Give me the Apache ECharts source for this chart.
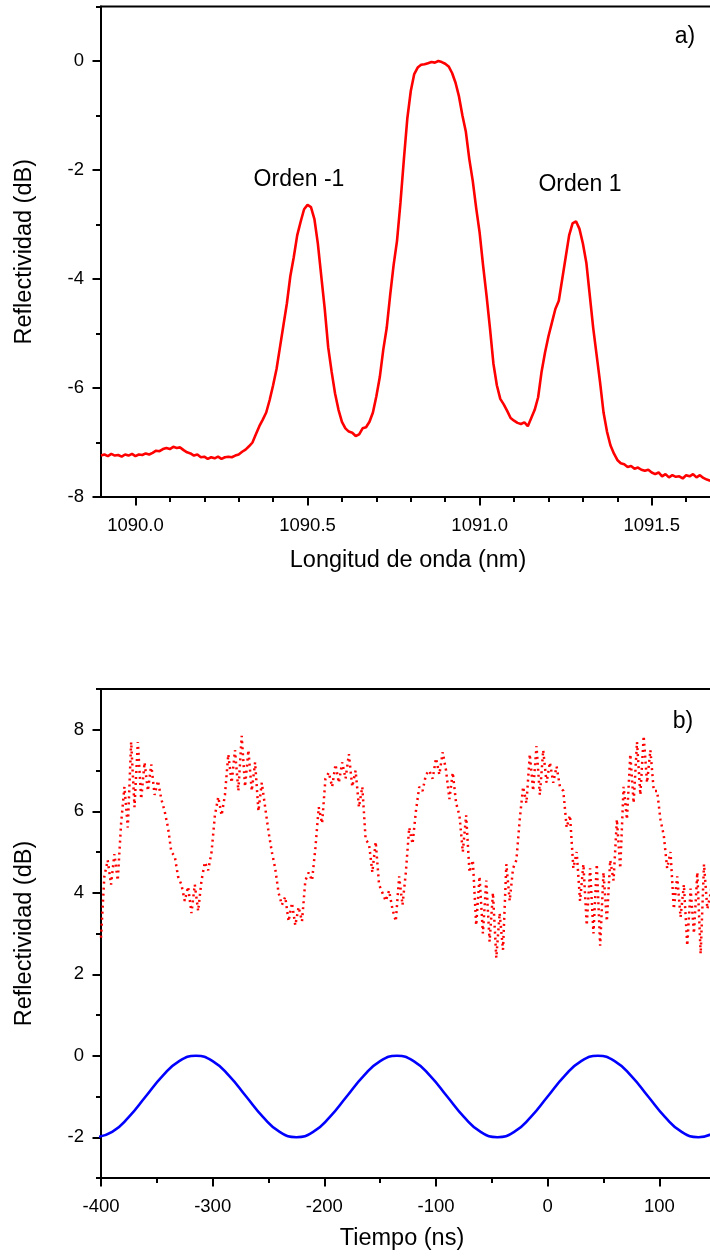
<!DOCTYPE html>
<html><head><meta charset="utf-8">
<script src="https://cdn.jsdelivr.net/npm/echarts@6/dist/echarts.min.js"></script>
<style>html,body{margin:0;padding:0;background:#fff}#c{width:710px;height:1256px}</style>
</head><body><div id="c"></div>
<script>
// ---- Panel a) spectrum ----
const wavelength = [
1089.90,1089.91,1089.92,1089.93,1089.94,1089.95,1089.96,1089.97,1089.98,1089.99,
1090.00,1090.01,1090.02,1090.03,1090.04,1090.05,1090.06,1090.07,1090.08,1090.09,
1090.10,1090.11,1090.12,1090.13,1090.14,1090.15,1090.16,1090.17,1090.18,1090.19,
1090.20,1090.21,1090.22,1090.23,1090.24,1090.25,1090.26,1090.27,1090.28,1090.29,
1090.30,1090.31,1090.32,1090.33,1090.34,1090.35,1090.36,1090.37,1090.38,1090.39,
1090.40,1090.41,1090.42,1090.43,1090.44,1090.45,1090.46,1090.47,1090.48,1090.49,
1090.50,1090.51,1090.52,1090.53,1090.54,1090.55,1090.56,1090.57,1090.58,1090.59,
1090.60,1090.61,1090.62,1090.63,1090.64,1090.65,1090.66,1090.67,1090.68,1090.69,
1090.70,1090.71,1090.72,1090.73,1090.74,1090.75,1090.76,1090.77,1090.78,1090.79,
1090.80,1090.81,1090.82,1090.83,1090.84,1090.85,1090.86,1090.87,1090.88,1090.89,
1090.90,1090.91,1090.92,1090.93,1090.94,1090.95,1090.96,1090.97,1090.98,1090.99,
1091.00,1091.01,1091.02,1091.03,1091.04,1091.05,1091.06,1091.07,1091.08,1091.09,
1091.10,1091.11,1091.12,1091.13,1091.14,1091.15,1091.16,1091.17,1091.18,1091.19,
1091.20,1091.21,1091.22,1091.23,1091.24,1091.25,1091.26,1091.27,1091.28,1091.29,
1091.30,1091.31,1091.32,1091.33,1091.34,1091.35,1091.36,1091.37,1091.38,1091.39,
1091.40,1091.41,1091.42,1091.43,1091.44,1091.45,1091.46,1091.47,1091.48,1091.49,
1091.50,1091.51,1091.52,1091.53,1091.54,1091.55,1091.56,1091.57,1091.58,1091.59,
1091.60,1091.61,1091.62,1091.63,1091.64,1091.65,1091.66,1091.67
];
const reflectA = [
-7.24,-7.22,-7.25,-7.21,-7.24,-7.23,-7.26,-7.22,-7.24,-7.21,
-7.25,-7.22,-7.23,-7.20,-7.22,-7.19,-7.15,-7.16,-7.12,-7.10,
-7.12,-7.08,-7.10,-7.09,-7.14,-7.18,-7.20,-7.24,-7.22,-7.27,
-7.26,-7.30,-7.27,-7.29,-7.26,-7.30,-7.27,-7.26,-7.27,-7.24,
-7.22,-7.17,-7.13,-7.07,-7.00,-6.85,-6.70,-6.58,-6.45,-6.22,
-5.95,-5.65,-5.25,-4.85,-4.45,-3.95,-3.60,-3.20,-2.95,-2.72,
-2.64,-2.68,-2.90,-3.35,-3.95,-4.55,-5.25,-5.70,-6.10,-6.40,
-6.62,-6.74,-6.80,-6.82,-6.88,-6.85,-6.74,-6.72,-6.62,-6.45,
-6.15,-5.80,-5.30,-4.90,-4.30,-3.75,-3.30,-2.60,-1.80,-1.05,
-0.55,-0.24,-0.12,-0.07,-0.06,-0.04,-0.02,-0.03,0.00,-0.02,
-0.05,-0.10,-0.22,-0.40,-0.65,-1.00,-1.30,-1.80,-2.20,-2.70,
-3.15,-3.75,-4.30,-4.90,-5.55,-5.95,-6.20,-6.30,-6.42,-6.55,
-6.60,-6.64,-6.66,-6.63,-6.70,-6.55,-6.40,-6.17,-5.70,-5.35,
-5.05,-4.80,-4.55,-4.40,-4.00,-3.60,-3.20,-2.98,-2.94,-3.08,
-3.35,-3.70,-4.30,-4.90,-5.40,-5.90,-6.45,-6.80,-7.05,-7.20,
-7.32,-7.38,-7.40,-7.45,-7.43,-7.48,-7.46,-7.50,-7.52,-7.50,
-7.55,-7.58,-7.55,-7.62,-7.58,-7.64,-7.60,-7.63,-7.62,-7.66,
-7.60,-7.62,-7.58,-7.64,-7.60,-7.65,-7.68,-7.70
];
const wlMajorTicks = [1090.0, 1090.5, 1091.0, 1091.5];
const wlMinorTicks = [1090.1,1090.2,1090.3,1090.4,1090.6,1090.7,1090.8,1090.9,1091.1,1091.2,1091.3,1091.4,1091.6,1091.7];
const reflAMajorTicks = [-8, -6, -4, -2, 0];
const reflAMinorTicks = [-7, -5, -3, -1, 1];
const annotationsA = ['Orden -1', 'Orden 1', 'a)'];

// ---- Panel b) time traces ----
const timeRed = [
-400,-397,-394,-391,-388,-385,-382,-379,-376,-373,
-370,-367,-364,-361,-358,-355,-352,-349,-346,-343,
-340,-337,-334,-331,-328,-325,-322,-319,-316,-313,
-310,-307,-304,-301,-298,-295,-292,-289,-286,-283,
-280,-277,-274,-271,-268,-265,-262,-259,-256,-253,
-250,-247,-244,-241,-238,-235,-232,-229,-226,-223,
-220,-217,-214,-211,-208,-205,-202,-199,-196,-193,
-190,-187,-184,-181,-178,-175,-172,-169,-166,-163,
-160,-157,-154,-151,-148,-145,-142,-139,-136,-133,
-130,-127,-124,-121,-118,-115,-112,-109,-106,-103,
-100,-97,-94,-91,-88,-85,-82,-79,-76,-73,
-70,-67,-64,-61,-58,-55,-52,-49,-46,-43,
-40,-37,-34,-31,-28,-25,-22,-19,-16,-13,
-10,-7,-4,-1,2,5,8,11,14,17,
20,23,26,29,32,35,38,41,44,47,
50,53,56,59,62,65,68,71,74,77,
80,83,86,89,92,95,98,101,104,107,
110,113,116,119,122,125,128,131,134,137,
140,143,146,149
];
const reflRed = [
2.9,4.4,4.8,4.2,4.95,4.3,5.7,6.6,5.6,7.7,
6.1,7.7,6.3,7.2,6.5,7.15,6.4,6.75,6.3,6.0,
5.6,5.0,4.9,4.4,4.2,3.8,4.15,3.5,4.2,3.55,
4.3,4.75,4.55,5.0,5.9,6.35,5.9,6.4,7.4,6.7,
7.5,6.5,7.85,6.6,7.5,6.5,7.2,6.0,6.7,6.1,
5.5,5.0,4.6,4.0,3.7,3.9,3.3,3.75,3.2,3.65,
3.3,4.3,4.5,4.3,5.1,6.1,5.7,6.8,6.95,6.6,
7.15,6.7,7.2,6.8,7.4,6.6,7.0,6.1,6.6,5.3,
5.2,4.5,5.25,4.2,4.0,3.8,4.05,3.6,3.3,4.4,
3.7,4.5,5.6,5.2,6.0,6.6,6.5,6.9,7.0,6.8,
7.3,6.9,7.45,7.0,6.3,6.95,6.2,5.9,5.0,5.9,
4.5,4.8,3.2,4.4,3.0,4.3,2.8,4.0,2.4,3.5,
2.6,4.7,3.8,4.6,4.8,5.8,6.6,6.2,7.4,6.5,
7.6,6.4,7.5,6.7,7.2,6.7,7.1,6.6,6.5,5.6,
5.9,4.6,5.0,3.8,4.7,3.2,4.6,3.0,4.7,2.7,
4.5,3.3,4.8,4.3,5.8,4.6,6.6,5.8,7.4,6.2,
7.7,6.4,7.85,6.7,7.5,6.5,6.5,5.8,5.4,4.6,
5.0,3.6,4.4,3.4,4.2,2.7,4.1,3.0,4.5,2.5,
4.7,3.6,4.0,4.7
];
const timeBlue = [-405,-390,-375,-360,-345,-330,-315,-300,-285,-270,-255,-240,-225,-210,-195,-180,-165,-150,-135,-120,-105,-90,-75,-60,-45,-30,-15,0,15,30,45,60,75,90,105,120,135,150];
const reflBlue = [-2,-1.87,-1.5,-1,-0.5,-0.13,0,-0.13,-0.5,-1,-1.5,-1.87,-2,-1.87,-1.5,-1,-0.5,-0.13,0,-0.13,-0.5,-1,-1.5,-1.87,-2,-1.87,-1.5,-1,-0.5,-0.13,0,-0.13,-0.5,-1,-1.5,-1.87,-2,-1.87];
const timeMajorTicks = [-400, -300, -200, -100, 0, 100];
const timeMinorTicks = [-350, -250, -150, -50, 50, 150];
const reflBMajorTicks = [-2, 0, 2, 4, 6, 8];
const reflBMinorTicks = [-3, -1, 1, 3, 5, 7, 9];
const annotationsB = ['b)'];

const zip = (a, b) => a.map((v, i) => [v, b[i]]);
const FONT = '"Liberation Sans", Arial, sans-serif';
const BLACK = '#000';
const TICK_FS = 18.5, TITLE_FS = 23.5, NOTE_FS = 23;

function majorAxis(extra, ticks, fmt) {
  const lab = { color: BLACK, fontSize: TICK_FS, fontFamily: FONT, customValues: ticks };
  if (fmt) lab.formatter = fmt;
  return Object.assign({
    type: 'value',
    axisLine: { show: true, onZero: false, lineStyle: { color: BLACK, width: 2 } },
    axisTick: { show: true, length: 8.5, customValues: ticks, lineStyle: { color: BLACK, width: 2 } },
    splitLine: { show: false },
    nameLocation: 'middle'
  }, extra, {
    axisLabel: Object.assign(lab, extra.axisLabel || {}),
    nameTextStyle: Object.assign({ color: BLACK, fontSize: TITLE_FS, fontFamily: FONT }, extra.nameTextStyle || {})
  });
}
function minorAxis(extra, ticks) {
  return Object.assign({
    type: 'value',
    axisLine: { show: false, onZero: false },
    axisTick: { show: true, length: 5, customValues: ticks, lineStyle: { color: BLACK, width: 2 } },
    axisLabel: { show: false },
    splitLine: { show: false }
  }, extra);
}

const chart = echarts.init(document.getElementById('c'), null, { renderer: 'canvas' });
chart.setOption({
  animation: false,
  backgroundColor: '#fff',
  grid: [
    { left: 101, top: 6.5, width: 654, height: 490.5, outerBoundsMode: 'none', containLabel: false,
      show: true, borderColor: BLACK, borderWidth: 2, backgroundColor: 'transparent' },
    { left: 101, top: 689, width: 670, height: 489, outerBoundsMode: 'none', containLabel: false,
      show: true, borderColor: BLACK, borderWidth: 2, backgroundColor: 'transparent' }
  ],
  xAxis: [
    majorAxis({ gridIndex: 0, position: 'bottom', min: 1089.9, max: 1091.8,
      name: 'Longitud de onda (nm)', nameGap: 52, axisLabel: { margin: 19 },
      nameTextStyle: { padding: [0, 40, 0, 0] } }, wlMajorTicks, v => v.toFixed(1)),
    minorAxis({ gridIndex: 0, position: 'bottom', min: 1089.9, max: 1091.8 }, wlMinorTicks),
    majorAxis({ gridIndex: 1, position: 'bottom', min: -400, max: 200,
      name: 'Tiempo (ns)', nameGap: 49, axisLabel: { margin: 19 },
      nameTextStyle: { padding: [0, 68, 0, 0] } }, timeMajorTicks),
    minorAxis({ gridIndex: 1, position: 'bottom', min: -400, max: 200 }, timeMinorTicks)
  ],
  yAxis: [
    majorAxis({ gridIndex: 0, position: 'left', min: -8, max: 1,
      name: 'Reflectividad (dB)', nameGap: 64, axisLabel: { margin: 17 } }, reflAMajorTicks),
    minorAxis({ gridIndex: 0, position: 'left', min: -8, max: 1 }, reflAMinorTicks),
    majorAxis({ gridIndex: 1, position: 'left', min: -3, max: 9,
      name: 'Reflectividad (dB)', nameGap: 64, axisLabel: { margin: 17 } }, reflBMajorTicks),
    minorAxis({ gridIndex: 1, position: 'left', min: -3, max: 9 }, reflBMinorTicks)
  ],
  series: [
    { type: 'line', xAxisIndex: 0, yAxisIndex: 0, data: zip(wavelength, reflectA),
      showSymbol: false, lineStyle: { color: '#ff0000', width: 2.6 }, z: 3 },
    { type: 'line', xAxisIndex: 2, yAxisIndex: 2, data: zip(timeRed, reflRed),
      showSymbol: false, lineStyle: { color: '#ff0000', width: 2.5, type: [2, 4] }, z: 3 },
    { type: 'line', xAxisIndex: 2, yAxisIndex: 2, data: zip(timeBlue, reflBlue), smooth: 0.5,
      showSymbol: false, lineStyle: { color: '#0000ff', width: 2.6 }, z: 3 }
  ],
  graphic: [
    { type: 'text', x: 299, y: 180, style: { text: annotationsA[0], fontSize: NOTE_FS, fontFamily: FONT, fill: BLACK, align: 'center', verticalAlign: 'middle' } },
    { type: 'text', x: 580, y: 185, style: { text: annotationsA[1], fontSize: NOTE_FS, fontFamily: FONT, fill: BLACK, align: 'center', verticalAlign: 'middle' } },
    { type: 'text', x: 685, y: 37, style: { text: annotationsA[2], fontSize: NOTE_FS, fontFamily: FONT, fill: BLACK, align: 'center', verticalAlign: 'middle' } },
    { type: 'text', x: 683, y: 722, style: { text: annotationsB[0], fontSize: NOTE_FS, fontFamily: FONT, fill: BLACK, align: 'center', verticalAlign: 'middle' } }
  ]
});
</script>
</body></html>
